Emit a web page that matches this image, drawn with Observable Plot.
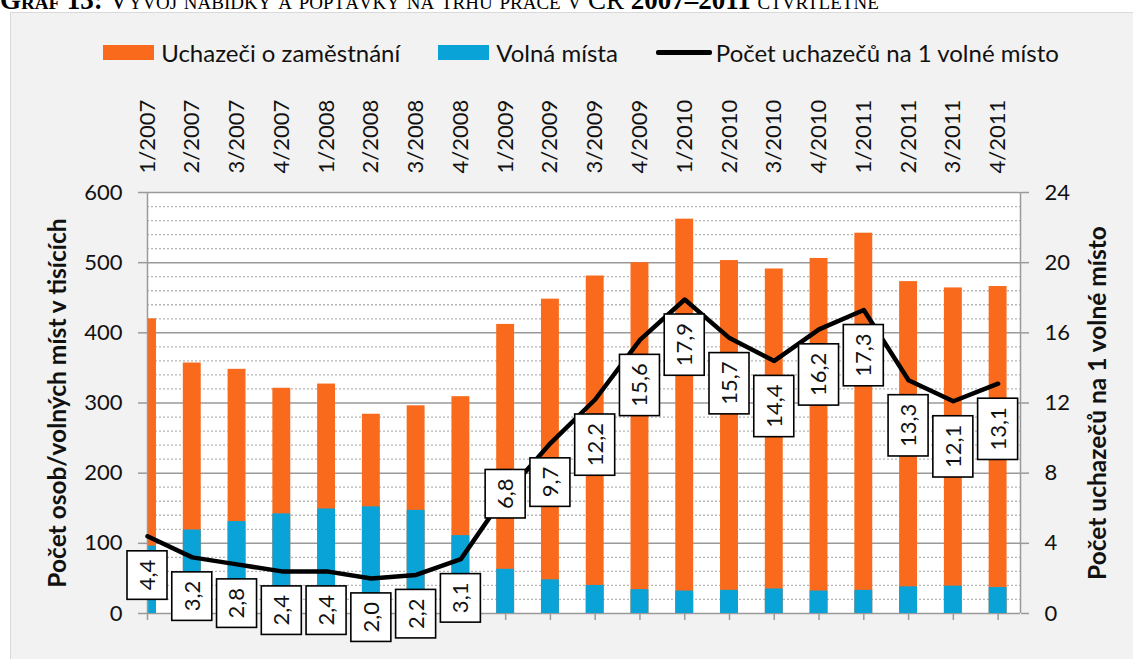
<!DOCTYPE html>
<html>
<head>
<meta charset="utf-8">
<script src="https://cdn.jsdelivr.net/npm/d3@7"></script>
<script src="https://cdn.jsdelivr.net/npm/@observablehq/plot@0.6"></script>
<style>
  html, body { margin: 0; padding: 0; background: #fff; }
  #wrap { position: relative; width: 1133px; height: 659px; overflow: hidden; font-family: Lato, "Open Sans", sans-serif; }
  #box { position: absolute; left: 10px; top: 12px; right: -2px; bottom: -2px; background: #f2f2f2; border: 1px solid #d9d9d9; }
  #title { position: absolute; left: 0; top: -13px; font-family: "Liberation Serif", "DejaVu Serif", serif; font-size: 27px; line-height: 26px; font-variant: small-caps; white-space: nowrap; color: #000; }
  #legend { position: absolute; left: 0; width: 1162px; top: 39px; height: 26px; display: flex; justify-content: center; align-items: center; font-size: 24px; color: #111; }
  .item { display: flex; align-items: center; margin: 0 19px; }
  .sw { width: 51px; height: 15px; margin-right: 7px; }
  .ln { width: 56px; height: 5px; border-radius: 2px; background: #000; margin-right: 4px; }
  #chart { position: absolute; left: 0; top: 0; }
</style>
</head>
<body>
<div id="wrap">
  <div id="title"><b>Graf 13:</b> Vývoj nabídky a poptávky na trhu práce v ČR <b>2007–2011</b> čtvrtletně</div>
  <div id="box"></div>
  <div id="legend"></div>
  <div id="chart"></div>
</div>
<script>
// ---- data ----
const categories = ["1/2007","2/2007","3/2007","4/2007","1/2008","2/2008","3/2008","4/2008",
  "1/2009","2/2009","3/2009","4/2009","1/2010","2/2010","3/2010","4/2010",
  "1/2011","2/2011","3/2011","4/2011"];
const uchazeci = [420, 357, 348, 321, 327, 284, 296, 309, 412, 448, 481, 500, 562, 503, 491, 506, 542, 473, 464, 466];
const volnaMista = [96, 119, 131, 142, 149, 152, 147, 111, 63, 48, 40, 34, 32, 33, 35, 32, 33, 38, 39, 37];
const pocetNaMisto = [4.4, 3.2, 2.8, 2.4, 2.4, 2.0, 2.2, 3.1, 6.8, 9.7, 12.2, 15.6, 17.9, 15.7, 14.4, 16.2, 17.3, 13.3, 12.1, 13.1];
const leftTicks = [0, 100, 200, 300, 400, 500, 600];
const rightTicks = [0, 4, 8, 12, 16, 20, 24];
const seriesNames = ["Uchazeči o zaměstnání", "Volná místa", "Počet uchazečů na 1 volné místo"];
const leftTitle = "Počet osob/volných míst v tisících";
const rightTitle = "Počet uchazečů na 1 volné místo";

// ---- styles ----
const ORANGE = "#f96a1c";
const BLUE = "#0aa3d8";
const GRID = "#9a9a9a";
const K = 600 / 24; // right axis -> left axis factor
const labelPlacement = pocetNaMisto.map((_, i) => i === 8 ? "center" : "below");

// legend
const legend = document.getElementById("legend");
[[ORANGE, "sw"], [BLUE, "sw"], ["#000", "ln"]].forEach(([c, cls], k) => {
  const it = document.createElement("div");
  it.className = "item";
  const s = document.createElement("div");
  s.className = cls;
  s.style.background = c;
  const t = document.createElement("span");
  t.textContent = seriesNames[k];
  it.append(s, t);
  legend.append(it);
});

const idx = d3.range(categories.length);
const minor = d3.range(20, 600, 20).filter(v => v % 100 !== 0);
const fmt = v => v.toFixed(1).replace(".", ",");

const mctx = document.createElement("canvas").getContext("2d");
mctx.font = "22px Lato";

function ratioLabels(index, scales) {
  const g = d3.create("svg:g").attr("aria-label", "ratio labels");
  pocetNaMisto.forEach((r, i) => {
    const s = fmt(r);
    const tw = mctx.measureText(s).width;
    const bw = 40, bh = tw + 18;
    const px = scales.x(i), py = scales.y(r * K);
    const cy = labelPlacement[i] === "center" ? py : py + 15 + bh / 2;
    g.append("rect")
      .attr("x", px - bw / 2).attr("y", cy - bh / 2)
      .attr("width", bw).attr("height", bh)
      .attr("fill", "white").attr("stroke", "#000").attr("stroke-width", 1.6);
    g.append("text")
      .attr("transform", `translate(${px},${cy}) rotate(-90)`)
      .attr("text-anchor", "middle").attr("dy", "0.36em")
      .attr("font-size", 22).attr("font-family", "Lato").attr("fill", "#111")
      .text(s);
  });
  return g.node();
}

const chart = Plot.plot({
  width: 1133,
  height: 659,
  marginLeft: 147,
  marginRight: 113,
  marginTop: 192,
  marginBottom: 46,
  style: { background: "transparent", fontFamily: "Lato, 'Open Sans', sans-serif", overflow: "visible" },
  x: { type: "linear", domain: [0, 19.5] },
  y: { domain: [0, 600] },
  marks: [
    Plot.frame({ fill: "white", stroke: "none" }),
    Plot.ruleY(minor, { stroke: "#b5b5b5", strokeWidth: 1.3, strokeDasharray: "2,2" }),
    Plot.ruleY(leftTicks, { stroke: GRID, strokeWidth: 1.5 }),
    Plot.rect(idx, { x1: i => i - 0.2, x2: i => i + 0.2, y1: 0, y2: i => uchazeci[i], fill: ORANGE, clip: true }),
    Plot.rect(idx, { x1: i => i - 0.2, x2: i => i + 0.2, y1: 0, y2: i => volnaMista[i], fill: BLUE, clip: true }),
    Plot.ruleX([0, 19.5], { stroke: GRID, strokeWidth: 1.5 }),
    Plot.axisY(leftTicks, { anchor: "left", tickSize: 9, tickPadding: 16, fontSize: 22, label: null, stroke: GRID, strokeWidth: 1.5, fill: "#111" }),
    Plot.axisY(rightTicks.map(v => v * K), { anchor: "right", tickSize: 8, tickPadding: 16, fontSize: 22, label: null, tickFormat: d => String(d / K), stroke: GRID, strokeWidth: 1.5, fill: "#111" }),
    Plot.axisX(idx, { anchor: "top", tickSize: 0, tickPadding: 19, tickRotate: -90, fontSize: 22, label: null, tickFormat: i => categories[i], fill: "#111" }),
    Plot.axisX(idx, { anchor: "bottom", tickSize: 7, tickFormat: () => "", label: null, stroke: GRID, strokeWidth: 1.5 }),
    Plot.text([leftTitle], { frameAnchor: "left", textAnchor: "middle", lineAnchor: "middle", rotate: -90, dx: -89, fontSize: 24.5, fontWeight: "bold", fill: "#111" }),
    Plot.text([rightTitle], { frameAnchor: "right", textAnchor: "middle", lineAnchor: "middle", rotate: -90, dx: 78, fontSize: 24.5, fontWeight: "bold", fill: "#111" }),
    Plot.line(idx, { x: i => i, y: i => pocetNaMisto[i] * K, stroke: "#000", strokeWidth: 4.5 }),
    ratioLabels
  ]
});
document.getElementById("chart").append(chart);
</script>
</body>
</html>
